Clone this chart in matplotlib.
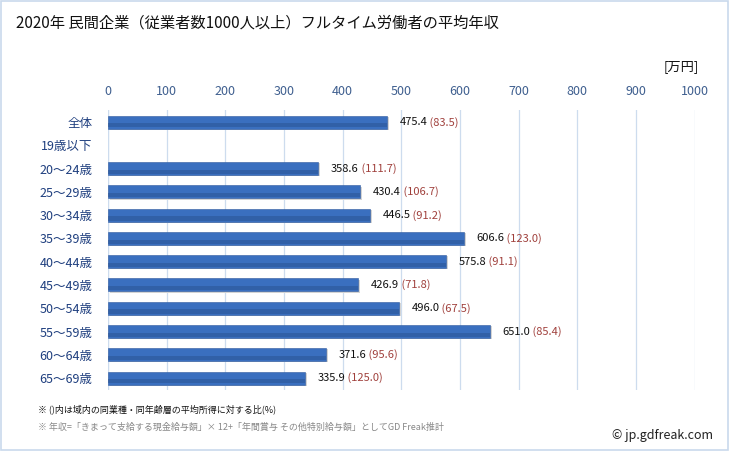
import matplotlib.pyplot as plt
from matplotlib.patches import Rectangle

plt.rcParams['font.family'] = ['Noto Sans CJK JP', 'DejaVu Sans']

categories = ['全体', '19歳以下', '20～24歳', '25～29歳', '30～34歳', '35～39歳',
              '40～44歳', '45～49歳', '50～54歳', '55～59歳', '60～64歳', '65～69歳']
incomes = [475.4, None, 358.6, 430.4, 446.5, 606.6, 575.8, 426.9, 496.0, 651.0, 371.6, 335.9]
ratios = [83.5, None, 111.7, 106.7, 91.2, 123.0, 91.1, 71.8, 67.5, 85.4, 95.6, 125.0]
x_ticks = [0, 100, 200, 300, 400, 500, 600, 700, 800, 900, 1000]

title = '2020年 民間企業（従業者数1000人以上）フルタイム労働者の平均年収'
note1 = '※ ()内は域内の同業種・同年齢層の平均所得に対する比(%)'
note2 = '※ 年収=「きまって支給する現金給与額」× 12+「年間賞与 その他特別給与額」としてGD Freak推計'

blue = '#3a6fbf'
tick_col = '#3f5f8f'

fig = plt.figure(figsize=(7.29, 4.51), dpi=100)
fig.patches.append(Rectangle((0.002, 0.002), 0.996, 0.996, transform=fig.transFigure,
                             fill=False, edgecolor='#c9d9ec', linewidth=1.2))
ax = fig.add_axes([0.148, 0.136, 0.805, 0.619])

pos = list(range(len(categories)))
for i, (v, r) in enumerate(zip(incomes, ratios)):
    if v is None:
        continue
    # faint shadow, bar, darker lower band
    ax.barh(i + 0.05, v, height=0.56, left=3, color='#d4d4d4', zorder=2)
    ax.barh(i, v, height=0.56, color=blue, edgecolor='#2f5a9e', linewidth=0.4, zorder=3)
    ax.barh(i + 0.14, v, height=0.18, color='#2b5494', linewidth=0, zorder=3, alpha=0.55)
    t = ax.annotate(f'{v:.1f}', xy=(v, i), xytext=(9, 0), textcoords='offset points',
                    va='center', ha='left', fontsize=8, color='#111111')
    ax.annotate(f' ({r:.1f})', xycoords=t, xy=(1, 0.5), va='center', ha='left',
                fontsize=8, color='#a0403c')

ax.set_xlim(0, 1000)
ax.set_ylim(len(categories) - 0.5, -0.5)
ax.set_xticks(x_ticks)
ax.set_yticks(pos)
ax.set_yticklabels(categories)
ax.xaxis.tick_top()
ax.tick_params(axis='x', length=0, pad=9, labelsize=9, labelcolor=tick_col)
ax.tick_params(axis='y', length=0, pad=11, labelsize=9, labelcolor='#1f3f7f')
ax.grid(axis='x', color='#cddcee', linewidth=0.9, zorder=0)
ax.set_axisbelow(True)
for s in ax.spines.values():
    s.set_visible(False)
ax.axvline(0, color='#cddcee', linewidth=0.9, zorder=1)

fig.text(0.022, 0.948, title, fontsize=11, ha='left', va='center', color='#111111')
fig.text(0.958, 0.853, '[万円]', fontsize=9.5, ha='right', va='center', color='#111111')
fig.text(0.052, 0.092, note1, fontsize=6.5, ha='left', va='center', color='#111111')
fig.text(0.052, 0.052, note2, fontsize=6.5, ha='left', va='center', color='#888888')
fig.text(0.978, 0.035, '© jp.gdfreak.com', fontsize=9, ha='right', va='center', color='#222222')

fig.savefig('out.png', dpi=100)
